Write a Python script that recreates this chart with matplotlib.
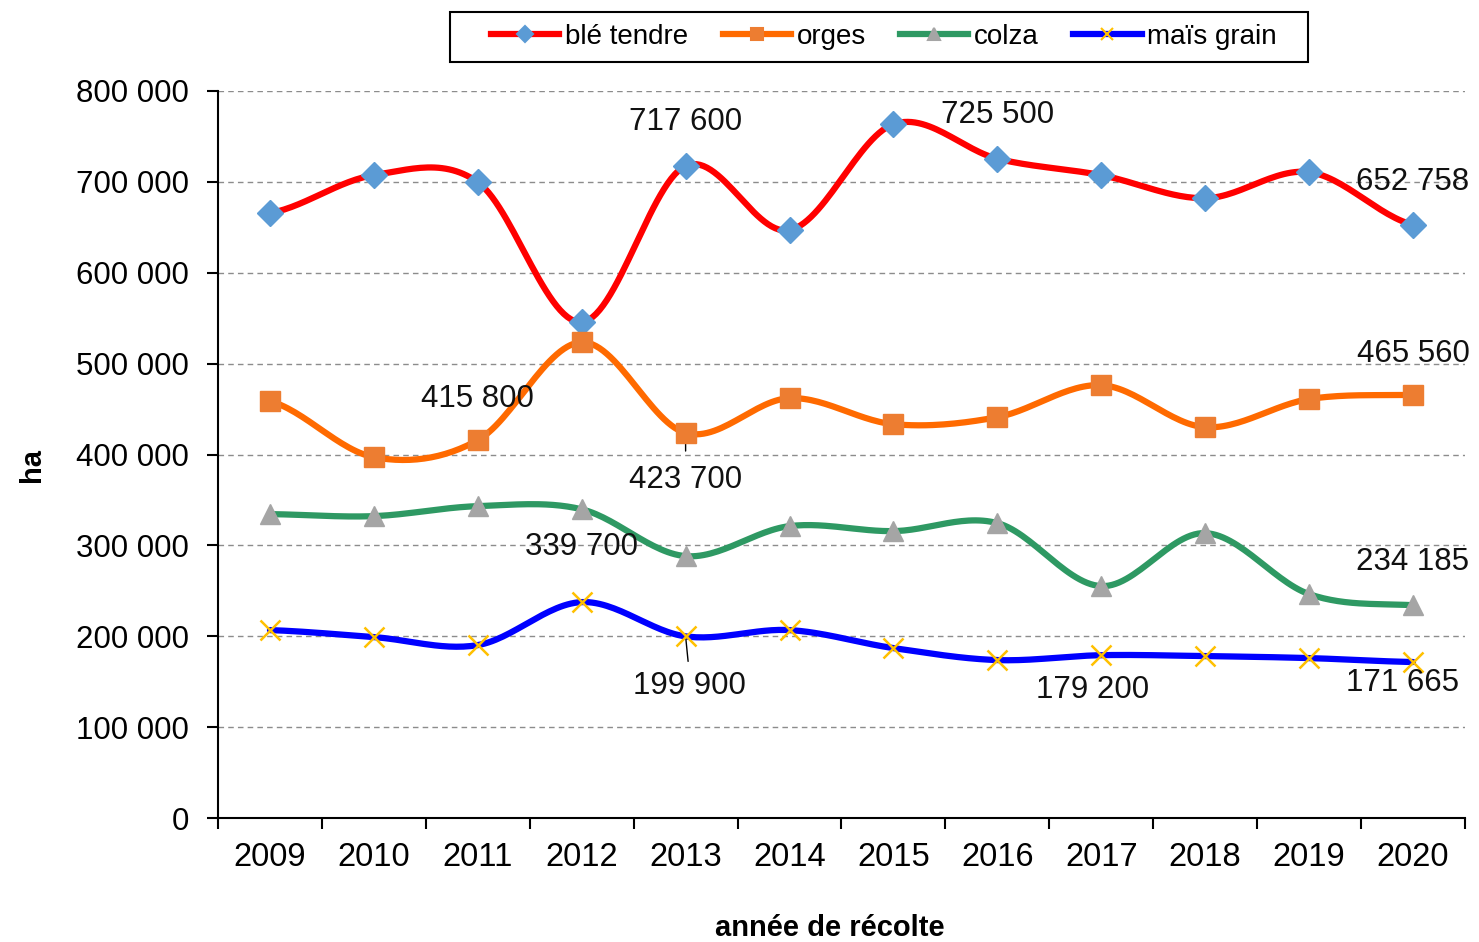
import numpy as np
import matplotlib
matplotlib.use("Agg")
import matplotlib.pyplot as plt
from matplotlib.patches import Rectangle

plt.rcParams['font.family'] = ['Liberation Sans', 'DejaVu Sans']

years = [2009, 2010, 2011, 2012, 2013, 2014, 2015, 2016, 2017, 2018, 2019, 2020]
ble_tendre = [665600, 707400, 699700, 545700, 717600, 646900, 763500, 725500, 707400, 682000, 710700, 652758]
orges = [458700, 397100, 415800, 523600, 423700, 462000, 433400, 441100, 476300, 430100, 461000, 465560]
colza = [334400, 332200, 343200, 339700, 288200, 321200, 315700, 324500, 255200, 313500, 246400, 234185]
mais_grain = [206800, 199100, 190300, 237600, 199900, 206800, 187000, 173800, 179200, 178200, 176000, 171665]

series = [
    ("blé tendre", ble_tendre, "#FF0000", "D", "#5B9BD5", 13),
    ("orges", orges, "#FF6A00", "s", "#ED7D31", 15),
    ("colza", colza, "#2E9963", "^", "#A5A5A5", 15),
    ("maïs grain", mais_grain, "#0000FF", "x", "#FFC000", 15),
]

# value labels: (series index, year, dx px, dy px)
labels = [
    (0, 2013, 0, 44), (0, 2016, 0, 44), (0, 2020, 0, 43),
    (1, 2011, 0, 41), (1, 2020, 0, 41), (1, 2013, 0, -47),
    (2, 2012, 0, -38), (2, 2020, 0, 43),
    (3, 2013, 4, -50), (3, 2017, -9, -35), (3, 2020, -10, -21),
]


def smooth(x, y, n=30):
    # Catmull-Rom style smoothing like spreadsheet "smoothed line"
    x = np.asarray(x, float)
    y = np.asarray(y, float)
    px = np.concatenate([[2 * x[0] - x[1]], x, [2 * x[-1] - x[-2]]])
    py = np.concatenate([[y[0]], y, [y[-1]]])
    xs, ys = [], []
    t = np.linspace(0, 1, n)
    for i in range(1, len(px) - 2):
        p0, p1, p2, p3 = py[i - 1], py[i], py[i + 1], py[i + 2]
        q0, q1, q2, q3 = px[i - 1], px[i], px[i + 1], px[i + 2]
        c1y, c2y = p1 + (p2 - p0) / 6, p2 - (p3 - p1) / 6
        c1x, c2x = q1 + (q2 - q0) / 6, q2 - (q3 - q1) / 6
        b = [(1 - t) ** 3, 3 * (1 - t) ** 2 * t, 3 * (1 - t) * t ** 2, t ** 3]
        xs.append(b[0] * q1 + b[1] * c1x + b[2] * c2x + b[3] * q2)
        ys.append(b[0] * p1 + b[1] * c1y + b[2] * c2y + b[3] * p2)
    return np.concatenate(xs), np.concatenate(ys)


fig = plt.figure(figsize=(14.79, 9.42), dpi=100)
ax = fig.add_axes([0.1474, 0.1316, 0.8431, 0.7718])

handles = []
for name, vals, lc, mk, mc, ms in series:
    sx, sy = smooth(years, vals)
    ax.plot(sx, sy, color=lc, lw=4.5, solid_capstyle='round', zorder=3)
    if mk == "x":
        ax.plot(years, vals, ls='none', marker=mk, ms=ms, mec=mc, mew=1.8, zorder=4)
    else:
        ax.plot(years, vals, ls='none', marker=mk, ms=ms, mfc=mc, mec=mc, zorder=4)
    h, = ax.plot([], [], color=lc, lw=4.5, marker=mk, ms=ms * 0.6, mfc=mc, mec=mc, mew=1.5)
    handles.append((h, name))

for si, yr, dx, dy in labels:
    v = series[si][1][years.index(yr)]
    ax.annotate(f"{v:,}".replace(",", " "), (yr, v), xytext=(dx * 0.72, dy * 0.72),
                textcoords='offset points', ha='center', va='center', fontsize=22.5,
                color='#111111', zorder=5)

# leader lines
ax.annotate("", (2013, orges[4]), xytext=(0, -15), textcoords='offset points',
            arrowprops=dict(arrowstyle='-', color='black', lw=1))
ax.annotate("", (2013, mais_grain[4]), xytext=(2, -20), textcoords='offset points',
            arrowprops=dict(arrowstyle='-', color='black', lw=1))

ax.set_xlim(2008.5, 2020.5)
ax.set_ylim(0, 800000)
ax.set_yticks(np.arange(0, 800001, 100000))
ax.set_yticklabels(["0"] + [f"{v:,}".replace(",", " ") for v in range(100000, 800001, 100000)])
ax.set_xticks(years)
ax.set_xticklabels([str(y) for y in years])
ax.set_xticks(np.arange(2008.5, 2021, 1), minor=True)
ax.tick_params(axis='x', which='major', length=0, pad=17, labelsize=23.5)
ax.tick_params(axis='x', which='minor', length=8, width=1.5, direction='out')
ax.tick_params(axis='y', length=8, width=1.5, direction='out', labelsize=22.5, pad=13)
ax.grid(axis='y', ls=(0, (4, 3)), color='#8C8C8C', lw=1)
ax.set_axisbelow(True)
for s in ['top', 'right']:
    ax.spines[s].set_visible(False)
for s in ['left', 'bottom']:
    ax.spines[s].set_linewidth(1.5)

ax.set_ylabel("ha", fontsize=21, fontweight='bold', va='center')
ax.yaxis.set_label_coords(-0.149, 0.486)
ax.set_xlabel("année de récolte", fontsize=21, fontweight='bold', va='center')
ax.xaxis.set_label_coords(0.491, -0.151)

leg = fig.legend([h for h, _ in handles], [n for _, n in handles], loc='center',
                 bbox_to_anchor=(884 / 1479, 1 - 37 / 942), ncol=4, fontsize=20, frameon=False,
                 handlelength=2.45, handletextpad=0.2, columnspacing=1.25, borderpad=0)
# legend box, wider than its content as in the original
fig.patches.append(Rectangle((450 / 1479, 1 - 62 / 942), 858 / 1479, 50 / 942,
                             transform=fig.transFigure, fill=False, ec='black', lw=1.5))

fig.savefig("out.png", dpi=100)
